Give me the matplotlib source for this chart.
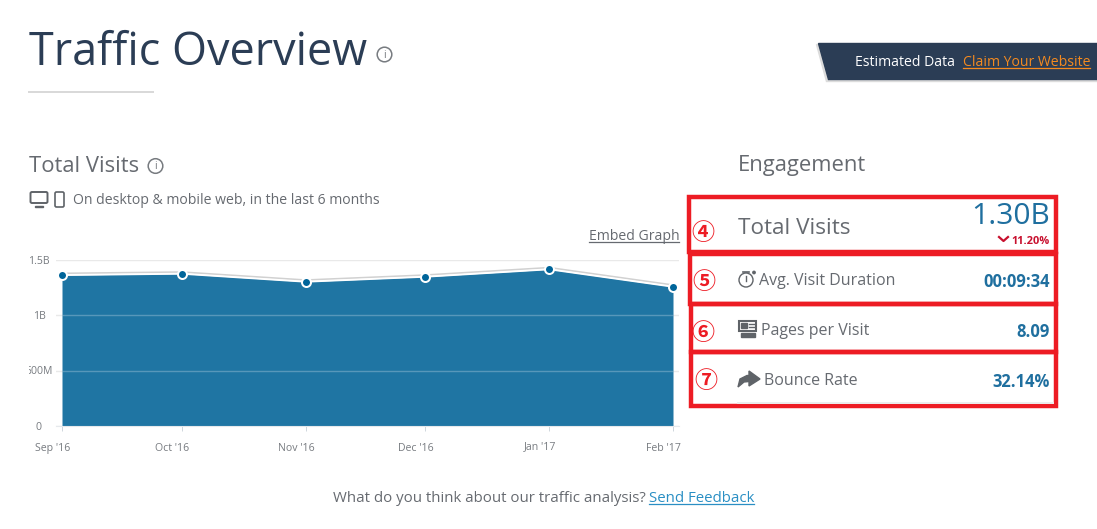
from datetime import datetime
import matplotlib
matplotlib.use('Agg')
from matplotlib import pyplot as plt
from matplotlib import dates as mdates
from matplotlib import patheffects as pe
from matplotlib.patches import Circle, Polygon, Rectangle, FancyBboxPatch
from matplotlib.transforms import ScaledTranslation, Bbox

plt.rcParams['font.family'] = ['Open Sans', 'Noto Sans CJK SC', 'DejaVu Sans']

W, H = 1097, 529
DPI = 100

months = [datetime(2016, 9, 1), datetime(2016, 10, 1), datetime(2016, 11, 1),
          datetime(2016, 12, 1), datetime(2017, 1, 1), datetime(2017, 2, 1)]
month_labels = ["Sep '16", "Oct '16", "Nov '16", "Dec '16", "Jan '17", "Feb '17"]
visits = [1.36, 1.372, 1.30, 1.345, 1.412, 1.255]
y_ticks = [0, 0.5, 1.0, 1.5]
y_labels = ['0', '500M', '1B', '1.5B']

metric_names = ['Avg. Visit Duration', 'Pages per Visit', 'Bounce Rate']
metric_values = ['00:09:34', '8.09', '32.14%']
metric_marks = ['⑤', '⑥', '⑦']

GREY = '#666a70'
NAVY = '#2b3d55'
BLUE = '#1f6f9f'
AREA = '#1f75a3'
DOT = '#00659a'
RED = '#ed1c24'


def px(size):
    return size * 72 / DPI


fig = plt.figure(figsize=(W / DPI, H / DPI), dpi=DPI, facecolor='white')

# page furniture, in pixel coordinates of the screenshot
bg = fig.add_axes([0, 0, 1, 1])
bg.set_xlim(0, W)
bg.set_ylim(H, 0)
bg.axis('off')


def label(x, y, s, size, color=GREY, ha='left', weight='normal'):
    # open sans sits high with va=center, y here is where the text should look centred
    return bg.text(x, y + 2, s, fontsize=px(size), color=color, ha=ha, va='center',
                   fontweight=weight)


def info(x, y):
    bg.add_patch(Circle((x, y), 7.3, fill=False, ec='#777b80', lw=1.1))
    bg.text(x, y + 0.5, 'i', fontsize=px(10.5), color='#777b80', ha='center', va='center')


label(29, 51, 'Traffic Overview', 45, NAVY)
info(384.5, 54.5)
bg.plot([29, 153], [91.5, 91.5], color='#d8d8d8', lw=1.4)

# estimated data banner
bg.add_patch(Polygon([[816, 44], [1097, 44], [1097, 81], [826, 81]], color='#dcdcdc'))
bg.add_patch(Polygon([[818, 43], [1097, 43], [1097, 79], [828, 79]], color=NAVY))
label(855, 61, 'Estimated Data', 14, 'white')
label(963, 61, 'Claim Your Website', 14, '#f58a1f')
bg.plot([963, 1090], [68, 68], color='#f58a1f', lw=0.9)

label(29, 164, 'Total Visits', 22)
info(155.5, 166)
label(738, 164, 'Engagement', 22)
label(73, 199, 'On desktop & mobile web, in the last 6 months', 14)

# device icons
bg.add_patch(FancyBboxPatch((30.5, 192), 17, 11, boxstyle='round,pad=0,rounding_size=1.5',
                            fc='white', ec='#5f6368', lw=1.4))
bg.add_patch(Rectangle((35, 205.5), 8, 1.6, color='#5f6368'))
bg.add_patch(FancyBboxPatch((55, 192), 9, 15, boxstyle='round,pad=0,rounding_size=1.5',
                            fc='white', ec='#5f6368', lw=1.2))

label(679.5, 235, 'Embed Graph', 14, ha='right')
bg.plot([589, 679], [241.5, 241.5], color=GREY, lw=0.9)

# engagement panel
label(738, 227, 'Total Visits', 22.5)
label(1050, 214, '1.30B', 30, BLUE, ha='right')
label(1050, 239, '11.20%', 11, '#c8102e', ha='right', weight='bold')
bg.plot([999, 1003.5, 1008], [237, 241, 237], color='#c8102e', lw=1.6)

rows_y = [279, 329, 379]
rows_x = [759, 761, 764]
for name, value, x, y in zip(metric_names, metric_values, rows_x, rows_y):
    label(x, y, name, 16)
    label(1050, y + 1, value, 16.5, BLUE, ha='right', weight='bold')

# stopwatch
bg.add_patch(Circle((746, 280), 7, fill=False, ec='#5f6368', lw=1))
bg.plot([746, 746], [276, 281], color='#5f6368', lw=1)
bg.plot([743, 749], [271.5, 271.5], color='#5f6368', lw=1.2)
bg.add_patch(Circle((754, 272.5), 1.2, color='#5f6368'))
# newspaper
bg.add_patch(Rectangle((739, 321), 17, 10, fc='white', ec='#5f6368', lw=1.5))
bg.add_patch(Rectangle((741, 323), 6, 5, color='#5f6368'))
bg.plot([749, 755], [324, 324], color='#5f6368', lw=1)
bg.plot([749, 755], [327, 327], color='#5f6368', lw=1)
bg.add_patch(Rectangle((740.5, 333), 14, 3.5, color='#5f6368'))
# share arrow
bg.add_patch(Polygon([[738, 387], [740, 379], [747, 375.5], [749, 375.5], [749, 371],
                      [760, 379], [749, 386], [749, 381.5], [744, 382]], color='#5f6368'))

bg.plot([738, 1053], [403, 403], color='#ececec', lw=1.4)

# red annotation boxes
boxes = [(688.5, 196.5, 1055.5, 251.5), (689.5, 253.5, 1055.5, 303.5),
         (690.7, 303.5, 1055.5, 351.5), (691.3, 351.5, 1055.5, 406.3)]
for x0, y0, x1, y1 in boxes:
    bg.add_patch(Rectangle((x0, y0), x1 - x0, y1 - y0, fill=False, ec=RED, lw=3.2))
marks_xy = [(703, 233), (704, 282.5), (703, 334), (706, 382)]
for s, (x, y) in zip(['④'] + metric_marks, marks_xy):
    bg.text(x, y, s, fontsize=px(23), color=RED, ha='center', va='center',
            fontweight='bold', family=['Noto Sans CJK SC', 'DejaVu Sans'])

label(333, 497, 'What do you think about our traffic analysis?', 15)
label(649, 497, 'Send Feedback', 15, '#2a8fc4')
bg.plot([649, 754], [504, 504], color='#2a8fc4', lw=0.9)

# chart, axes placed so that 0 and 1.5B and the month ticks fall on the same pixels
left, right, bottom, top = 56, 679, 426, 259.5
ax = fig.add_axes([left / W, 1 - bottom / H, (right - left) / W, (bottom - top) / H])
ax.patch.set_alpha(0)
pad_days = 6 * (mdates.date2num(months[-1]) - mdates.date2num(months[0])) / 611
ax.set_xlim(mdates.date2num(months[0]) - pad_days, mdates.date2num(months[-1]) + pad_days)
ax.set_ylim(0, 1.5)
for s in ['top', 'left', 'right']:
    ax.spines[s].set_visible(False)
ax.spines['bottom'].set_color('#e6e9ec')

ax.set_axisbelow(True)
ax.grid(axis='y', color='#e9e9e9', lw=1)
ax.grid(axis='x', visible=False)
ax.set_xticks(mdates.date2num(months))
ax.set_xticklabels(month_labels, fontsize=px(10.5), color='#777b80')
ax.set_yticks(y_ticks)
ax.set_yticklabels(y_labels, fontsize=px(10.5), color='#777b80')
ax.tick_params(axis='x', length=px(5), width=0.7, color='#cfd6dc', pad=px(20))
ax.tick_params(axis='y', length=0, pad=px(17))

shift = ScaledTranslation(-9.5 / DPI, 0, fig.dpi_scale_trans)
for t in ax.get_xticklabels():
    # the J of Jan hangs below the baseline and drags the label down a pixel
    up = 1.5 / DPI if t.get_text().startswith('Jan') else 0
    t.set_transform(t.get_transform() + shift + ScaledTranslation(0, up, fig.dpi_scale_trans))
    t.set_va('baseline')
for t in ax.get_yticklabels():
    t.set_ha('center')
    # the 500M label is cut off at the left in the screenshot
    t.set_clip_box(Bbox([[29, 0], [W, H]]))
    t.set_clip_on(True)

x = mdates.date2num(months)
ax.fill_between(x, 0, visits, color=AREA, lw=0, zorder=2)
ax.hlines(y_ticks[1:3], x[0], x[-1], color='white', alpha=0.25, lw=1, zorder=3)
ax.plot(x, visits, color='white', lw=1.4, zorder=4, clip_on=False,
        path_effects=[pe.SimpleLineShadow(offset=(0, 1.1), shadow_color='#999999', alpha=0.45),
                      pe.Normal()])
ax.plot(x, visits, ls='none', marker='o', ms=px(9), mfc=DOT, mec='white', mew=px(2),
        zorder=5, clip_on=False)

fig.savefig('out.png', dpi=DPI)
